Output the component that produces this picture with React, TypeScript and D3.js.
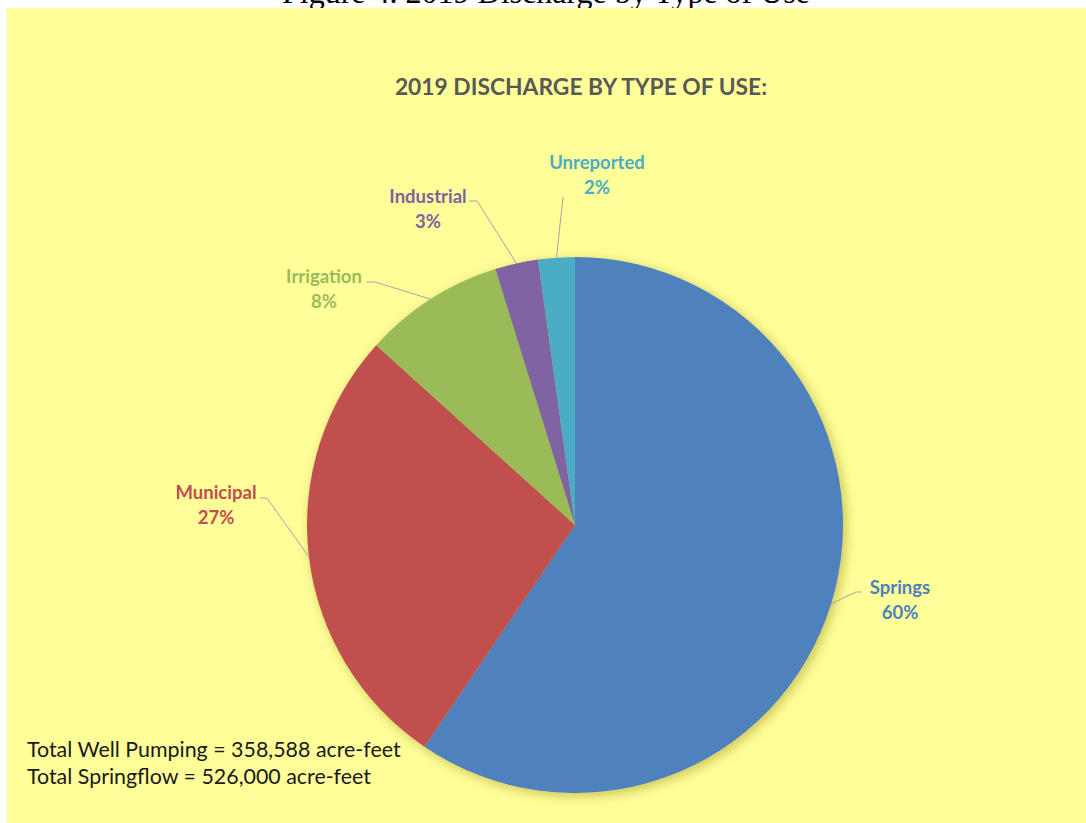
import { useEffect } from 'react'
import * as d3 from 'd3'

// slices clockwise from 12 o'clock
const categories = ['Springs', 'Municipal', 'Irrigation', 'Industrial', 'Unreported']
const shares = [59.5, 27.2, 8.5, 2.6, 2.2]
const shareLabels = ['60%', '27%', '8%', '3%', '2%']
const colors = ['#4F81BD', '#C0504D', '#9BBB59', '#8064A2', '#4BACC6']
const notes = ['Total Well Pumping = 358,588 acre-feet', 'Total Springflow = 526,000 acre-feet']

const W = 1086
const H = 823
const CX = 575
const CY = 525
const R = 268
const FONT = 'Lato, "Open Sans", sans-serif'

// label text centre + leader start / elbow (layout only)
const labelLayout = [
  { x: 900, y: 588, lead: [[862, 592], [856, 592]] },
  { x: 216, y: 493, lead: [[260, 498], [267, 498]] },
  { x: 324, y: 277, lead: [[366, 282], [375, 282]] },
  { x: 428, y: 197, lead: [[469, 201], [477, 201]] },
  { x: 597, y: 163, lead: [[563, 197]] },
]

export default function App() {
  useEffect(() => {
    document.body.style.margin = '0'
  }, [])

  const pie = d3
    .pie<number>()
    .sort(null)
    .value((d) => d)
  const arcs = pie(shares)
  const arc = d3.arc<d3.PieArcDatum<number>>().innerRadius(0).outerRadius(R)
  const edge = d3.arc<d3.PieArcDatum<number>>().innerRadius(R).outerRadius(R)

  return (
    <svg width={W} height={H} style={{ display: 'block' }}>
      <defs>
        <filter id="pieShadow" x="-20%" y="-20%" width="140%" height="140%">
          <feDropShadow dx="3" dy="3" stdDeviation="6" floodColor="#8a7d00" floodOpacity="0.45" />
        </filter>
      </defs>
      <rect width={W} height={H} fill="#ffffff" />
      {/* figure caption sits behind the yellow panel, as in the source scan */}
      <text
        x={546}
        y={3}
        textAnchor="middle"
        fontFamily='"Liberation Serif", "Times New Roman", serif'
        fontSize={32}
        fill="#000"
      >
        Figure 4. 2019 Discharge by Type of Use
      </text>
      <rect x={7} y={8} width={W - 7} height={H - 8} fill="#FFFE99" />

      <text
        x={581}
        y={95}
        textAnchor="middle"
        fontFamily={FONT}
        fontWeight="bold"
        fontSize={22.8}
        fill="#595959"
      >
        2019 DISCHARGE BY TYPE OF USE:
      </text>

      <g transform={`translate(${CX},${CY})`} filter="url(#pieShadow)">
        {arcs.map((a, i) => (
          <path key={categories[i]} d={arc(a) ?? ''} fill={colors[i]} />
        ))}
      </g>

      {arcs.map((a, i) => {
        const [ex, ey] = edge.centroid(a)
        const lay = labelLayout[i]
        const pts = [...lay.lead, [CX + ex, CY + ey]]
        return (
          <g key={categories[i]}>
            <polyline
              points={pts.map((p) => p.join(',')).join(' ')}
              fill="none"
              stroke="#A6A6A6"
              strokeWidth={1}
            />
            <text
              x={lay.x}
              y={lay.y + 6}
              textAnchor="middle"
              fontFamily={FONT}
              fontWeight="bold"
              fontSize={18.5}
              fill={colors[i]}
            >
              {categories[i]}
            </text>
            <text
              x={lay.x}
              y={lay.y + 31}
              textAnchor="middle"
              fontFamily={FONT}
              fontWeight="bold"
              fontSize={18.5}
              fill={colors[i]}
            >
              {shareLabels[i]}
            </text>
          </g>
        )
      })}

      {notes.map((t, i) => (
        <text key={t} x={27} y={757 + i * 27} fontFamily={FONT} fontSize={21.4} fill="#1a1a1a">
          {t}
        </text>
      ))}
    </svg>
  )
}
